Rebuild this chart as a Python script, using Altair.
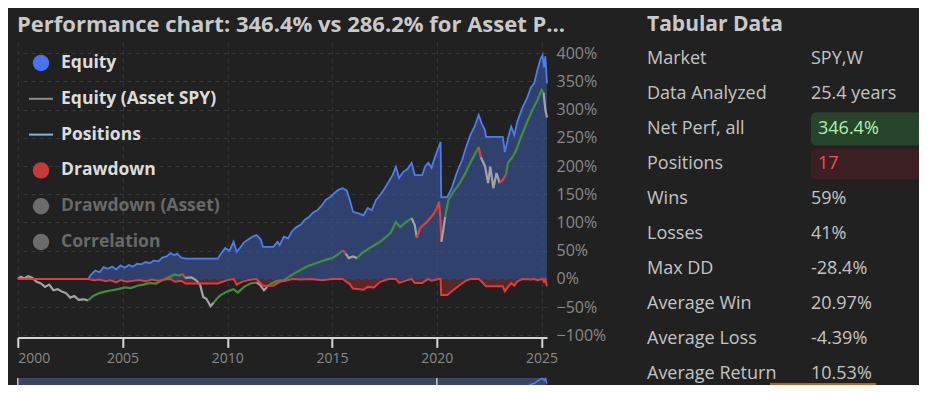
import altair as alt
import pandas as pd

# ---------------- data ----------------
eq_years = [2000.00, 2003.35, 2003.50, 2003.70, 2003.90, 2004.10, 2004.30, 2004.50, 2004.70, 2004.90,
            2005.10, 2005.30, 2005.50, 2005.70, 2005.90, 2006.10, 2006.30, 2006.50, 2006.70, 2006.90,
            2007.10, 2007.30, 2007.45, 2007.60, 2007.80, 2008.00, 2009.55, 2009.70, 2009.90, 2010.10,
            2010.30, 2010.45, 2010.60, 2010.80, 2011.00, 2011.20, 2011.40, 2011.60, 2011.70, 2012.20,
            2012.40, 2012.50, 2012.70, 2012.90, 2013.10, 2013.30, 2013.50, 2013.70, 2013.90, 2014.10,
            2014.30, 2014.50, 2014.70, 2014.90, 2015.10, 2015.30, 2015.50, 2015.70, 2015.85, 2016.00,
            2016.30, 2016.50, 2016.70, 2016.90, 2017.10, 2017.30, 2017.50, 2017.70, 2017.90, 2018.05,
            2018.20, 2018.40, 2018.60, 2018.80, 2018.95, 2019.30, 2019.45, 2019.60, 2019.75, 2019.90,
            2020.10, 2020.18, 2020.21, 2020.50, 2020.70, 2020.95, 2021.20, 2021.40, 2021.60, 2021.80,
            2022.00, 2022.15, 2022.30, 2022.35, 2023.15, 2023.25, 2023.40, 2023.55, 2023.70, 2023.85,
            2024.10, 2024.30, 2024.50, 2024.65, 2024.80, 2024.95, 2025.05, 2025.12, 2025.18, 2025.26]
equity = [0, 0, 8, 15, 12, 21, 18, 22, 17, 24,
          20, 25, 22, 27, 26, 30, 28, 33, 31, 38,
          40, 46, 42, 45, 38, 36, 36, 45, 55, 50,
          66, 48, 55, 65, 70, 75, 78, 70, 57, 57,
          66, 60, 75, 72, 85, 92, 96, 105, 110, 118,
          122, 130, 140, 145, 152, 158, 161, 157, 140, 119,
          116, 113, 126, 122, 140, 149, 160, 172, 185, 199,
          179, 190, 195, 206, 184, 184, 200, 206, 197, 215,
          235, 243, 145, 145, 160, 188, 210, 234, 255, 270,
          291, 275, 264, 252, 252, 225, 250, 270, 255, 280,
          305, 320, 340, 347, 370, 390, 397, 375, 395, 346.4]

dd_years = [2000.00, 2003.40, 2003.60, 2003.90, 2004.20, 2004.40, 2004.70, 2004.90, 2005.20, 2005.50,
            2005.80, 2006.10, 2006.40, 2006.70, 2007.00, 2007.30, 2007.50, 2007.80, 2008.00, 2009.55,
            2009.60, 2010.00, 2010.30, 2010.45, 2010.70, 2011.00, 2011.40, 2011.70, 2012.20, 2012.50,
            2012.80, 2013.10, 2013.50, 2014.00, 2014.50, 2015.00, 2015.50, 2015.85, 2016.00, 2016.50,
            2016.70, 2017.00, 2017.30, 2017.70, 2018.05, 2018.20, 2018.60, 2018.80, 2018.95, 2019.30,
            2019.60, 2019.75, 2020.10, 2020.18, 2020.21, 2020.50, 2020.70, 2020.95, 2021.20, 2021.40,
            2021.60, 2022.00, 2022.15, 2022.35, 2023.15, 2023.25, 2023.40, 2023.55, 2023.70, 2023.85,
            2024.10, 2024.50, 2024.65, 2024.80, 2025.05, 2025.12, 2025.18, 2025.26]
drawdown = [0, 0, -2, -1, -4, -2, -6, -2, -5, -3,
            -2, -4, -1, -3, -1, 0, -5, -3, -8, -8,
            -7, -2, 0, -10, -5, -2, 0, -12, -12, -5,
            -3, 0, -1, 0, -2, 0, 0, -9, -17, -19,
            -14, -15, -5, 0, 0, -7, -2, 0, -7, -7,
            0, -3, 0, 0, -28.4, -28.4, -22, -15, -8, -3,
            0, 0, -5, -13, -13, -22, -14, -7, -12, -4,
            0, -1, 0, -2, 0, -5, -1, -13]

asset_years = [2000.00, 2000.15, 2000.30, 2000.50, 2000.70, 2000.90, 2001.10, 2001.30, 2001.50, 2001.70,
               2001.90, 2002.10, 2002.30, 2002.50, 2002.70, 2002.90, 2003.15, 2003.35, 2003.60, 2003.90,
               2004.20, 2004.50, 2004.80, 2005.10, 2005.40, 2005.70, 2006.00, 2006.30, 2006.60, 2006.90,
               2007.20, 2007.50, 2007.70, 2007.85, 2008.00, 2008.30, 2008.50, 2008.70, 2008.85, 2009.00,
               2009.20, 2009.35, 2009.50, 2009.70, 2010.00, 2010.30, 2010.50, 2010.80, 2011.10, 2011.40,
               2011.60, 2011.75, 2011.90, 2012.10, 2012.40, 2012.70, 2012.90, 2013.20, 2013.50, 2013.80,
               2014.10, 2014.40, 2014.70, 2015.00, 2015.30, 2015.50, 2015.65, 2015.80, 2016.00, 2016.20,
               2016.40, 2016.80, 2017.30, 2017.80, 2018.05, 2018.25, 2018.50, 2018.80, 2018.95, 2019.05,
               2019.20, 2019.50, 2019.80, 2020.00, 2020.10, 2020.17, 2020.22, 2020.30, 2020.40, 2020.55,
               2020.80, 2021.10, 2021.40, 2021.60, 2021.80, 2022.00, 2022.10, 2022.30, 2022.45, 2022.55,
               2022.70, 2022.85, 2023.00, 2023.15, 2023.30, 2023.40, 2023.60, 2023.80, 2024.00, 2024.30,
               2024.50, 2024.80, 2025.00, 2025.10, 2025.18, 2025.26]
asset = [0, 4, 1, 5, 2, -5, -8, -14, -10, -20,
         -18, -22, -25, -33, -30, -37, -36, -38, -30, -25,
         -22, -20, -18, -15, -16, -12, -10, -7, -8, -2,
         3, 8, 6, 9, 2, 3, -2, -10, -32, -35,
         -48, -42, -35, -28, -22, -18, -24, -14, -8, -6,
         -12, -20, -14, -8, -3, -2, 3, 10, 16, 22,
         26, 30, 34, 37, 44, 51, 45, 37, 40, 37,
         45, 55, 66, 82, 101, 92, 100, 108, 95, 73,
         90, 100, 113, 125, 137, 110, 66, 85, 110, 140,
         155, 170, 190, 206, 220, 234, 216, 200, 170, 199,
         161, 188, 170, 176, 185, 206, 215, 229, 250, 277,
         295, 317, 335, 330, 300, 286.2]
# N = out of market (grey), L = in position (green), S = losing exit (red)
asset_state = list("NNNNNNNNNN" + "NNNNNNNNLL" + "LLLLLLLLLL" + "LLLLSNNNNN" +
                   "NNLLLLLLLL" + "NNNLLLLLLL" + "LLLLLLSNNN" + "LLLLLLLLNN" +
                   "SSSSSSSNNL" + "LLLLLLSNNN" + "NNNSSLLLLL" + "LLLLNN")

legend_names = ["Equity", "Equity (Asset SPY)", "Positions", "Drawdown", "Drawdown (Asset)", "Correlation"]
legend_kind = ["circle", "line", "line", "circle", "circle", "circle"]
legend_colors = ["#4b73ef", "#8e8e8e", "#80b2f0", "#c73a3a", "#6c6c6c", "#6c6c6c"]
legend_text_colors = ["#dcdcdc", "#dcdcdc", "#dcdcdc", "#dcdcdc", "#696969", "#696969"]

table_labels = ["Market", "Data Analyzed", "Net Perf, all", "Positions", "Wins", "Losses",
                "Max DD", "Average Win", "Average Loss", "Average Return"]
table_values = ["SPY,W", "25.4 years", "346.4%", "17", "59%", "41%",
                "-28.4%", "20.97%", "-4.39%", "10.53%"]

title_text = "Performance chart: 346.4% vs 286.2% for Asset P..."

# ---------------- layout helpers (page px -> view px) ----------------
X0, Y0 = 17.8, 42.1
W, H = 529.2, 293.3


def vx(px):
    return px - X0


def vy(py):
    return py - Y0


FONT = "Open Sans"
BG = "#212121"

x_scale = alt.Scale(domain=[2000, 2025.26], nice=False, zero=False)
x_axis = alt.Axis(values=[2000, 2005, 2010, 2015, 2020, 2025], format="d", title=None,
                  grid=True, gridColor="#3b3b3b", gridDash=[4, 4], gridWidth=1,
                  domain=True, domainColor="#d6d6d6", domainWidth=2,
                  ticks=True, tickColor="#d6d6d6", tickWidth=2, tickSize=10,
                  labelColor="#8a8a8a", labelFontSize=14, labelFont=FONT,
                  labelPadding=4, labelFlush=True, offset=2)
y_scale = alt.Scale(domain=[-100, 420], nice=False, zero=False)
y_axis = alt.Axis(orient="right", values=list(range(-100, 401, 50)), title=None,
                  labelExpr="format(datum.value, 'd') + '%'",
                  grid=True, gridColor="#3b3b3b", gridDash=[4, 4], gridWidth=1,
                  domain=False, ticks=False, labelColor="#8a8a8a", labelFontSize=16,
                  labelFont=FONT, labelPadding=9, labelFlush=False)

X = alt.X("Year:Q", scale=x_scale, axis=x_axis)
Y = alt.Y("Value:Q", scale=y_scale, axis=y_axis)

eq_df = pd.DataFrame({"Year": eq_years, "Value": equity})
dd_df = pd.DataFrame({"Year": dd_years, "Value": drawdown})

rows = []
seg = 0
for i in range(len(asset_years)):
    if i > 0 and asset_state[i] != asset_state[i - 1]:
        seg += 1
        rows.append((asset_years[i - 1], asset[i - 1], asset_state[i], seg))
    rows.append((asset_years[i], asset[i], asset_state[i], seg))
asset_df = pd.DataFrame(rows, columns=["Year", "Value", "State", "Seg"])

eq_area = alt.Chart(eq_df).mark_area(color="#3a56a0", opacity=0.6).encode(x=X, y=Y)
dd_area = alt.Chart(dd_df).mark_area(color="#8a2c2c", opacity=0.55).encode(x=X, y=Y)
asset_line = alt.Chart(asset_df).mark_line(strokeWidth=2.2).encode(
    x=X, y=Y, detail="Seg:N",
    color=alt.Color("State:N", legend=None,
                    scale=alt.Scale(domain=["L", "N", "S"],
                                    range=["#3f8f3f", "#a3a3a3", "#d8423f"])))
eq_line = alt.Chart(eq_df).mark_line(color="#4f7cf0", strokeWidth=1.8).encode(x=X, y=Y)
dd_line = alt.Chart(dd_df).mark_line(color="#e23b3b", strokeWidth=2).encode(x=X, y=Y)

# navigator strip (same x scale / axis definition so the x axis merges cleanly)
span_df = pd.DataFrame({"Year": [eq_years[0]], "End": [eq_years[-1]]})
nav_band = alt.Chart(span_df).mark_rect(color="#3a4560").encode(
    x=X, x2="End:Q", y=alt.value(vy(378)), y2=alt.value(vy(400)))
nav_rules = alt.Chart(pd.DataFrame({"Year": [2000, 2020]})).mark_rule(
    color="#c9c9c9", strokeWidth=1.5).encode(x=X, y=alt.value(vy(378)), y2=alt.value(vy(400)))
nav_line = alt.Chart(eq_df).mark_line(color="#4f7cf0", strokeWidth=1.5).encode(
    x=X, y=alt.Y("Value:Q", axis=None,
                 scale=alt.Scale(domain=[0, 400], range=[vy(420), vy(378)])))

main = alt.layer(eq_area, dd_area, asset_line, eq_line, dd_line, nav_band, nav_rules)


def text_layer(txt, px, py, size, color, weight="normal"):
    return alt.Chart(pd.DataFrame({"t": [txt]})).mark_text(
        align="left", baseline="middle", fontSize=size, fontWeight=weight,
        color=color, font=FONT).encode(x=alt.value(vx(px)), y=alt.value(vy(py)), text="t:N")


def rect_layer(px1, px2, py1, py2, color, radius=0):
    return alt.Chart(pd.DataFrame({"k": [0]})).mark_rect(color=color, cornerRadius=radius).encode(
        x=alt.value(vx(px1)), x2=alt.value(vx(px2)), y=alt.value(vy(py1)), y2=alt.value(vy(py2)))


extras = [text_layer(title_text, 17, 25, 22, "#c9c9c9", "bold"),
          text_layer("Tabular Data", 647, 25, 21, "#c9c9c9", "bold")]

# table
ROW0, ROWSTEP = 59, 35
extras.append(rect_layer(811, 935, ROW0 + 2 * ROWSTEP - 16.5, ROW0 + 2 * ROWSTEP + 16.5, "#27452b", 5))
extras.append(rect_layer(811, 935, ROW0 + 3 * ROWSTEP - 15.5, ROW0 + 3 * ROWSTEP + 15.5, "#3b1f22", 5))
extras.append(rect_layer(770, 876, 383, 400, "#b8621a"))
for i, (lab, val) in enumerate(zip(table_labels, table_values)):
    py = ROW0 + ROWSTEP * i
    vcol = "#c4c4c4"
    px = 811
    if lab.startswith("Net Perf"):
        vcol, px = "#b2f0b2", 818
    elif lab == "Positions":
        vcol, px = "#e8545a", 818
    extras.append(text_layer(lab, 647, py, 18, "#c4c4c4"))
    extras.append(text_layer(val, px, py, 18, vcol))

# legend
for i, (name, kind, col, tcol) in enumerate(zip(legend_names, legend_kind, legend_colors, legend_text_colors)):
    py = 63 + 35.8 * i
    d = pd.DataFrame({"k": [0]})
    if kind == "circle":
        extras.append(alt.Chart(d).mark_point(filled=True, shape="circle", size=270, color=col, opacity=1).encode(
            x=alt.value(vx(41)), y=alt.value(vy(py))))
    else:
        extras.append(alt.Chart(d).mark_rule(color=col, strokeWidth=2).encode(
            x=alt.value(vx(29)), x2=alt.value(vx(53)), y=alt.value(vy(py))))
    extras.append(text_layer(name, 61, py, 17.5, tcol, "bold"))

chart = alt.layer(main, nav_line, *extras).resolve_scale(y="independent").properties(
    width=W, height=H,
    autosize=alt.AutoSizeParams(type="none"),
    padding={"left": X0 - 8, "top": Y0 - 8, "right": 911 - (X0 - 8) - W, "bottom": 377 - (Y0 - 8) - H},
    background=BG,
).configure_view(stroke=None)

chart.save("out.html", embed_options={"renderer": "svg", "actions": False})
